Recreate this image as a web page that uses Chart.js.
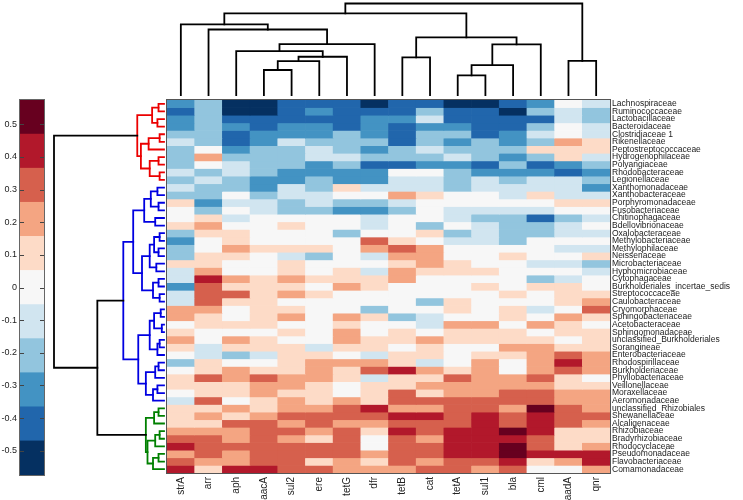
<!DOCTYPE html>
<html>
<head>
<meta charset="utf-8">
<script src="https://cdn.jsdelivr.net/npm/chart.js@4.4.1/dist/chart.umd.min.js"></script>
<style>
  body { margin: 0; background: #fff; }
  canvas { position: absolute; left: 0; top: 0; }
</style>
</head>
<body>
<canvas id="heat" width="743" height="500"></canvas>
<canvas id="bar" width="50" height="500"></canvas>
<script>
// Heatmap data
const genes = ['strA', 'arr', 'aph', 'aacA', 'sul2', 'ere', 'tetG', 'dfr', 'tetB', 'cat', 'tetA', 'sul1', 'bla', 'cml', 'aadA', 'qnr'];

const families = ['Lachnospiraceae', 'Ruminococcaceae', 'Lactobacillaceae', 'Bacteroidaceae', 'Clostridiaceae 1',
    'Rikenellaceae', 'Peptostreptococcaceae', 'Hydrogenophilaceae', 'Polyangiaceae', 'Rhodobacteraceae',
    'Legionellaceae', 'Xanthomonadaceae', 'Xanthobacteraceae', 'Porphyromonadaceae', 'Fusobacteriaceae',
    'Chitinophagaceae', 'Bdellovibrionaceae', 'Oxalobacteraceae', 'Methylobacteriaceae', 'Methylophilaceae',
    'Neisseriaceae', 'Microbacteriaceae', 'Hyphomicrobiaceae', 'Cytophagaceae', 'Burkholderiales_incertae_sedis',
    'Streptococcaceae', 'Caulobacteraceae', 'Cryomorphaceae', 'Sphingobacteriaceae', 'Acetobacteraceae',
    'Sphingomonadaceae', 'unclassified_Burkholderiales', 'Sorangineae', 'Enterobacteriaceae', 'Rhodospirillaceae',
    'Burkholderiaceae', 'Phyllobacteriaceae', 'Veillonellaceae', 'Moraxellaceae', 'Aeromonadaceae',
    'unclassified_Rhizobiales', 'Shewanellaceae', 'Alcaligenaceae', 'Rhizobiaceae', 'Bradyrhizobiaceae',
    'Rhodocyclaceae', 'Pseudomonadaceae', 'Flavobacteriaceae', 'Comamonadaceae'];

// one array per gene, one value per family (top to bottom)
const strA = [-0.3,-0.4,-0.3,-0.3,-0.2,-0.1,-0.2,-0.2,-0.2,-0.1,-0.2,-0.1,-0.2,0.1,0,0,0.1,-0.2,-0.3,-0.2,-0.2,0.1,-0.1,-0.1,-0.3,
    -0.1,-0.1,0.2,0.2,0,0.1,0.2,0.1,0,-0.2,0,0.1,0.1,0,-0.1,0.1,0.1,0.1,0.2,0.3,0.4,0.2,0.3,0.4];
const arr = [-0.2,-0.2,-0.2,-0.2,-0.2,-0.2,0,0.2,0,-0.2,-0.1,-0.2,-0.2,-0.3,-0.2,0.1,0.2,0.1,0,0,0.1,0.1,0.2,0.4,0.3,
    0.3,0.3,0.2,0.1,0.1,0,0,-0.1,-0.1,0.1,0.1,0.3,0.1,0.1,0.3,0.1,0.2,0.1,0.2,0.3,0.3,0.3,0.2,0.1];
const aph = [-0.5,-0.5,-0.4,-0.3,-0.4,-0.4,-0.3,-0.2,-0.1,-0.1,-0.2,-0.2,0,-0.1,0,-0.1,0,0.1,0.1,0.2,0.1,0,0,0.2,0.1,
    0.3,0.1,0,0,0.1,0,0.2,0.1,-0.2,0,0.2,0.2,0.1,0.1,0,0.2,0.1,0.3,0.2,0.2,0.3,0.2,0.2,0.4];
const aacA = [-0.5,-0.5,-0.4,-0.4,-0.3,-0.3,-0.2,-0.2,-0.2,-0.2,-0.3,-0.3,-0.2,-0.1,-0.1,0,0,0,0,0.1,0,0,0,0.1,0.1,
    0.1,0.1,0.1,0.1,0.1,0,0.1,0.1,-0.1,0,0.1,0.3,0.2,0.2,0.1,0.1,0.2,0.3,0.3,0.3,0.3,0.3,0.3,0.4];
const sul2 = [-0.4,-0.4,-0.4,-0.3,-0.3,-0.1,-0.2,-0.2,-0.2,-0.3,-0.3,-0.1,-0.1,-0.2,-0.2,0,0.1,0,0,0.1,-0.1,0.1,0.1,0.2,0.1,
    0.2,0,0.1,0.2,0,0.1,0,0.1,0.1,0.1,0.1,0.2,0.2,0.1,0.2,0.2,0.3,0.2,0.3,0.2,0.3,0.3,0.3,0.3];
const ere = [-0.4,-0.3,-0.4,-0.3,-0.3,-0.2,-0.1,-0.1,-0.3,-0.3,-0.2,-0.2,-0.1,-0.1,-0.2,0,0,0,0,0.1,-0.2,0,0,0.1,0,
    0.1,0,0,0,0,0,0,-0.1,0.1,0.2,0.2,0.2,0.1,0.1,0.1,0.2,0.3,0.3,0.2,0.1,0.3,0.3,0.1,0.3];
const tetG = [-0.4,-0.4,-0.4,-0.4,-0.2,-0.2,-0.2,-0.1,-0.2,-0.3,-0.3,0.1,0,-0.2,-0.3,0,0,-0.2,0,0,0,0,0.1,0.1,0.2,
    0,0,0,0.2,0.1,0.2,0.2,0.1,0,0.2,0.1,0.1,0,0,0.2,0.3,0.3,0.2,0.3,0.3,0.3,0.3,0.2,0.2];
const dfr = [-0.5,-0.4,-0.3,-0.3,-0.3,-0.2,-0.3,-0.2,-0.4,-0.3,-0.3,-0.1,0,-0.2,-0.3,-0.1,-0.1,0,0.3,0.2,-0.1,0,-0.1,0.1,0.1,
    0,0,-0.2,0.1,0,0,0.1,0.1,-0.1,0.2,0.3,-0.1,0.1,0.1,0.1,0.4,0.3,0.2,0.1,0,0,0.2,0.1,0.2];
const tetB = [-0.4,-0.4,-0.3,-0.4,-0.4,-0.4,-0.2,-0.2,-0.4,0,-0.1,-0.1,0.2,-0.1,-0.2,0,0,0,0.1,0.3,0.2,0.1,0.2,0.2,0,
    0,0,0,-0.2,0,0.1,0.1,0,0.1,0.1,0.4,0.1,0.1,0.3,0.3,0.2,0.4,0.3,0.4,0.3,0.3,0.3,0.3,0.2];
const cat = [-0.4,-0.2,-0.1,-0.3,-0.2,-0.2,-0.1,-0.2,-0.3,0,-0.1,-0.1,0.1,0,0,0,-0.2,0.1,0,0.2,0.2,0.2,0.1,0,0,
    0,-0.2,0,-0.1,-0.1,0,0.2,0.1,0.1,-0.1,0.2,0.1,0.2,0.1,0.3,0.2,0.4,0.3,0.3,0.2,0.3,0.3,0.2,0.3];
const tetA = [-0.5,-0.4,-0.4,-0.3,-0.2,-0.3,-0.2,-0.1,-0.3,-0.2,-0.2,-0.2,0,0,-0.1,-0.1,0,-0.2,-0.1,0,0,0.1,0.1,0,0,
    0,0.1,0.1,0,0.2,0.1,0.1,0,0,0,0.1,0.3,0.2,0.2,0.3,0.3,0.3,0.3,0.4,0.4,0.4,0.4,0.3,0.3];
const sul1 = [-0.5,-0.4,-0.4,-0.4,-0.4,-0.2,-0.2,-0.2,-0.4,-0.3,-0.1,-0.1,0,0,-0.1,-0.2,-0.1,-0.1,-0.1,0,0,0,0.1,0,0.1,
    0,0,0,0,0.2,0.1,0.1,0,0.1,0.2,0.2,0.2,0.2,0.2,0.3,0.3,0.4,0.4,0.4,0.4,0.4,0.4,0.3,0.2];
const bla = [-0.4,-0.5,-0.4,-0.4,-0.3,-0.3,-0.2,-0.3,-0.2,-0.3,-0.2,-0.1,-0.1,0,-0.1,-0.2,-0.2,-0.2,-0.2,0,0.1,0,0,0,0,
    0.1,0,0.1,0.1,0,0.1,0.1,0.2,0.1,0,0,0.2,0.2,0.3,0.3,0.2,0.3,0.3,0.5,0.4,0.5,0.5,0.4,0.3];
const cml = [-0.3,-0.2,-0.4,-0.2,-0.1,-0.2,0.1,-0.2,-0.4,-0.3,-0.1,-0.1,0.1,0,-0.1,-0.4,-0.2,-0.2,0,0,0,-0.1,0,-0.2,0.1,
    0,0,-0.1,0,0.2,0,0.1,0.2,0.2,0.2,0.2,0.3,0.2,0.3,0.3,0.5,0.4,0.4,0.4,0.3,0.3,0.4,0.1,0];
const aadA = [0,-0.1,-0.1,0,0,0.2,0.1,0.1,-0.3,-0.4,-0.1,-0.1,-0.1,0.1,0,-0.2,-0.1,-0.1,0,-0.1,0,-0.1,0,-0.1,0.1,
    0.1,0.1,0,0.2,0.1,0.1,0,0.1,0.3,0.4,0.3,0.1,0.1,0.2,0.2,0.3,0.3,0.3,0.1,0.1,0.1,0.4,0.2,0];
const qnr = [-0.1,-0.2,-0.2,-0.1,-0.1,0.1,0.1,-0.1,-0.2,-0.3,-0.2,-0.3,-0.1,0.1,0,-0.1,0,-0.1,0,-0.1,0.1,-0.2,-0.1,0,0,
    0.1,0.2,0.3,0.1,0,0.1,0.1,0.1,0.2,0.2,0.2,0,0.1,0.2,0.2,0.2,0.3,0.2,0.1,0.1,0.2,0.4,0.4,0.2];

const columns = [strA, arr, aph, aacA, sul2, ere, tetG, dfr, tetB, cat, tetA, sul1, bla, cml, aadA, qnr];

// colour bar
const colorTicks = [0.5, 0.4, 0.3, 0.2, 0.1, 0, -0.1, -0.2, -0.3, -0.4, -0.5];
const vmax = 0.5745;
const palette = ['#053061', '#2166ac', '#4393c3', '#92c5de', '#d1e5f0', '#f7f7f7',
    '#fddbc7', '#f4a582', '#d6604d', '#b2182b', '#67001f'];

// dendrograms: [height, left, right], leaves are indices; height 1 = root
const colTree = [1.0,
    [0.891,
        [0.771, 0, [0.716, 1, [0.556, [0.48, 2, [0.418, [0.371, [0.273, 3, 4], 5], 6]], 7]]],
        [0.629, [0.411, 8, 9], [0.553, [0.327, [0.215, 10, 11], 12], 13]]],
    [0.374, 14, 15]];

const redTree = [0.243,
    [0.108, [0.05, 0, 1], [0.06, 2, 3]],
    [0.21, [0.14, [0.04, 4, 5], 6], [0.13, [0.05, 7, 8], [0.04, 9, 10]]]];
const blueTree = [0.37,
    [0.28,
        [0.18, [0.12, [0.06, 11, 12], [0.05, 13, 14]], [0.08, 15, 16]],
        [0.2, [0.13, [0.09, [0.04, 17, 18], [0.05, 19, 20]], [0.07, 21, 22]], [0.1, [0.05, 23, 24], [0.04, 25, 26]]]],
    [0.234,
        [0.13, [0.09, [0.03, 27, 28], [0.02, 29, 30]], [0.06, [0.04, 31, 32], 33]],
        [0.165, [0.08, [0.05, 34, 35], 36], [0.1, [0.06, 37, 38], 39]]]];
const greenTree = [0.165,
    [0.09, [0.05, 40, 41], 42],
    [0.15, [0.08, [0.04, 43, 44], 45], [0.1, [0.05, 46, 47], 48]]];

const rowTree = [1.0,
    { color: 'rgb(235,0,0)', tree: redTree },
    [0.606, { color: 'rgb(0,0,225)', tree: blueTree }, { color: 'rgb(0,128,0)', tree: greenTree }]];

function binColor(v) {
    let k = Math.round(v / (2 * vmax / palette.length)) + 5;
    k = Math.max(0, Math.min(palette.length - 1, k));
    return palette[k];
}

function drawTree(ctx, node, color, leafPos, heightPos, horizontal) {
    if (typeof node === 'number') return { p: leafPos(node), h: 0 };
    if (!Array.isArray(node)) return drawTree(ctx, node.tree, node.color, leafPos, heightPos, horizontal);
    const a = drawTree(ctx, node[1], color, leafPos, heightPos, horizontal);
    const b = drawTree(ctx, node[2], color, leafPos, heightPos, horizontal);
    const h = node[0];
    ctx.strokeStyle = color;
    ctx.beginPath();
    if (horizontal) {
        ctx.moveTo(heightPos(a.h), a.p);
        ctx.lineTo(heightPos(h), a.p);
        ctx.lineTo(heightPos(h), b.p);
        ctx.lineTo(heightPos(b.h), b.p);
    } else {
        ctx.moveTo(a.p, heightPos(a.h));
        ctx.lineTo(a.p, heightPos(h));
        ctx.lineTo(b.p, heightPos(h));
        ctx.lineTo(b.p, heightPos(b.h));
    }
    ctx.stroke();
    return { p: (a.p + b.p) / 2, h: h };
}

const dendroPlugin = {
    id: 'dendro',
    afterDraw(chart) {
        const { ctx, chartArea, scales: { x, y } } = chart;
        ctx.save();
        ctx.lineWidth = 1.8;
        ctx.lineCap = 'square';
        // rows, on the left
        const rowBase = chartArea.left - 3;
        drawTree(ctx, rowTree, '#000', i => y.getPixelForValue(i + 0.5),
            h => rowBase - h * (rowBase - 54), true);
        // columns, on top
        const colBase = chartArea.top - 5;
        drawTree(ctx, colTree, '#000', j => x.getPixelForValue(j),
            h => colBase - h * (colBase - 3.5), false);
        // frame
        ctx.lineWidth = 1;
        ctx.strokeStyle = '#555';
        ctx.strokeRect(chartArea.left - 0.5, chartArea.top - 0.5,
            chartArea.right - chartArea.left + 1, chartArea.bottom - chartArea.top + 1);
        ctx.restore();
    }
};

Chart.defaults.color = '#222';
Chart.defaults.font.family = 'Liberation Sans, Arial, sans-serif';

new Chart(document.getElementById('heat'), {
    type: 'bar',
    data: {
        labels: genes,
        datasets: families.map((f, i) => ({
            label: f,
            data: genes.map(() => [i, i + 1]),
            backgroundColor: genes.map((g, j) => binColor(columns[j][i])),
            borderWidth: 0,
            barPercentage: 1,
            categoryPercentage: 1
        }))
    },
    options: {
        responsive: false,
        animation: false,
        layout: { padding: { left: 167, top: 100 } },
        plugins: { legend: { display: false }, tooltip: { enabled: false } },
        scales: {
            x: {
                stacked: true,
                grid: { display: false, drawTicks: false },
                border: { display: false },
                ticks: { minRotation: 90, maxRotation: 90, padding: 4, font: { size: 10 } },
                afterFit: s => { s.height = 27; }
            },
            y: {
                type: 'linear',
                position: 'right',
                min: 0,
                max: families.length,
                reverse: true,
                grid: { display: false, drawTicks: false },
                border: { display: false },
                afterBuildTicks: s => { s.ticks = families.map((f, i) => ({ value: i + 0.5 })); },
                ticks: {
                    autoSkip: false,
                    padding: 2,
                    font: { family: 'Liberation Sans Narrow, Arial Narrow, Liberation Sans, sans-serif', size: 8.5 },
                    callback: v => families[Math.floor(v)]
                },
                afterFit: s => { s.width = 133; }
            }
        }
    },
    plugins: [dendroPlugin]
});

// colour bar
const bandEdges = palette.map((c, k) => -vmax + k * 2 * vmax / palette.length);

const barFrame = {
    id: 'barFrame',
    afterDraw(chart) {
        const { ctx, chartArea, scales: { y } } = chart;
        ctx.save();
        ctx.strokeStyle = '#444';
        ctx.lineWidth = 1;
        colorTicks.forEach(t => {
            const py = Math.round(y.getPixelForValue(t)) + 0.5;
            ctx.beginPath();
            ctx.moveTo(chartArea.left, py); ctx.lineTo(chartArea.left + 4, py);
            ctx.moveTo(chartArea.right - 4, py); ctx.lineTo(chartArea.right, py);
            ctx.stroke();
        });
        ctx.strokeStyle = '#666';
        ctx.strokeRect(chartArea.left - 0.5, chartArea.top - 0.5,
            chartArea.right - chartArea.left + 1, chartArea.bottom - chartArea.top + 1);
        ctx.restore();
    }
};

new Chart(document.getElementById('bar'), {
    type: 'bar',
    data: {
        labels: [''],
        datasets: palette.map((c, k) => ({
            data: [[bandEdges[k], bandEdges[k] + 2 * vmax / palette.length]],
            backgroundColor: c,
            borderWidth: 0,
            barPercentage: 1,
            categoryPercentage: 1
        }))
    },
    options: {
        responsive: false,
        animation: false,
        layout: { padding: { top: 100, bottom: 25, right: 6 } },
        plugins: { legend: { display: false }, tooltip: { enabled: false } },
        scales: {
            x: { display: false, stacked: true },
            y: {
                min: -vmax,
                max: vmax,
                grid: { display: false, drawTicks: false },
                border: { display: false },
                afterBuildTicks: s => { s.ticks = colorTicks.map(v => ({ value: v })); },
                ticks: {
                    padding: 3,
                    font: { size: 9 },
                    callback: v => (Math.abs(v) < 1e-9 ? '0' : v.toFixed(1))
                },
                afterFit: s => { s.width = 20; }
            }
        }
    },
    plugins: [barFrame]
});
</script>
</body>
</html>
